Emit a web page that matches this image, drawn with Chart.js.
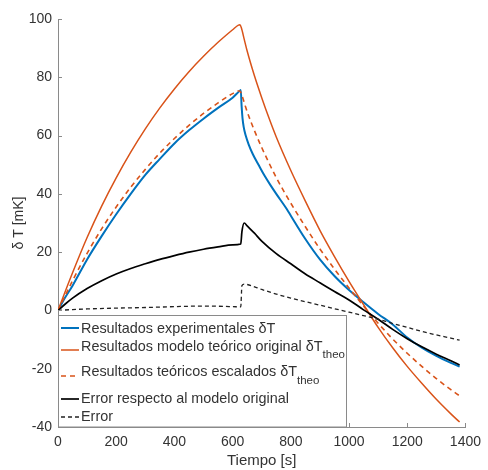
<!DOCTYPE html>
<html>
<head>
<meta charset="utf-8">
<script src="https://cdn.jsdelivr.net/npm/chart.js@4.4.1/dist/chart.umd.min.js"></script>
<style>
  html, body { margin: 0; padding: 0; background: #fff; }
  #wrap { width: 488px; height: 470px; position: relative; }
</style>
</head>
<body>
<div id="wrap"><canvas id="c" width="488" height="470"></canvas></div>
<script>
// ---- Data ----
const xTicks = [0, 200, 400, 600, 800, 1000, 1200, 1400];
const yTicks = [-40, -20, 0, 20, 40, 60, 80, 100];

// Resultados experimentales δT
const tExp = [0, 25, 50, 100, 150, 200, 250, 300, 350, 400, 450, 500, 550, 600, 625, 628, 631, 634, 638, 645, 655, 670, 690, 710, 730, 750, 786, 800, 850, 900, 950, 1000, 1050, 1100, 1150, 1200, 1250, 1300, 1350, 1380];
const vExp = [0, 4.5, 8.5, 17.5, 25.5, 33.0, 40.0, 46.5, 52.0, 57.3, 61.8, 65.8, 69.5, 73.0, 75.4, 75.6, 70.0, 66.0, 63.0, 60.0, 57.0, 53.5, 49.8, 46.2, 43.0, 40.0, 34.8, 32.5, 24.5, 17.5, 11.8, 7.0, 2.8, -1.2, -4.8, -9.3, -12.8, -15.6, -18.0, -19.3];

// Resultados modelo teórico original δT_theo
const tOrig = [0, 50, 100, 150, 200, 250, 300, 350, 400, 450, 500, 550, 600, 620, 625, 630, 640, 650, 675, 700, 725, 750, 800, 850, 900, 950, 1000, 1050, 1100, 1150, 1200, 1250, 1300, 1350, 1380];
const vOrig = [0, 12.9, 25.0, 35.8, 45.5, 54.3, 62.3, 69.5, 76.0, 81.9, 87.2, 92.0, 96.3, 97.9, 98.0, 97.0, 93.0, 89.0, 80.5, 73.0, 66.0, 59.5, 48.0, 37.5, 27.5, 18.5, 10.0, 2.0, -5.8, -12.8, -19.2, -25.0, -30.5, -35.5, -38.3];

// Resultados teóricos escalados δT_theo
const tScal = [0, 50, 100, 150, 200, 250, 300, 350, 400, 450, 500, 550, 600, 620, 625, 630, 640, 650, 675, 700, 725, 750, 800, 850, 900, 950, 1000, 1050, 1100, 1150, 1200, 1250, 1300, 1350, 1380];
const vScal = [0, 10.2, 19.6, 28.0, 35.5, 42.3, 48.4, 54.0, 59.0, 63.5, 67.6, 71.2, 74.4, 75.3, 75.3, 74.4, 71.3, 68.2, 61.7, 55.9, 50.6, 45.6, 36.8, 28.7, 21.1, 14.2, 7.7, 1.5, -4.4, -9.8, -14.7, -19.2, -23.4, -27.2, -29.3];

// Error respecto al modelo original
const tErrO = [0, 25, 50, 100, 150, 200, 250, 300, 350, 400, 450, 500, 550, 600, 628, 632, 640, 650, 675, 700, 750, 800, 850, 900, 950, 1000, 1050, 1100, 1150, 1200, 1250, 1300, 1350, 1380];
const vErrO = [0, 2.2, 4.2, 7.5, 10.2, 12.5, 14.4, 16.0, 17.5, 18.8, 20.0, 21.0, 21.8, 22.5, 22.8, 27.0, 30.0, 29.0, 26.5, 23.8, 19.5, 16.0, 12.5, 9.5, 6.5, 3.6, 0.2, -3.0, -6.5, -9.7, -12.5, -15.0, -17.3, -18.7];

// Error
const tErr = [0, 50, 100, 200, 300, 400, 500, 600, 628, 632, 640, 650, 700, 750, 800, 850, 900, 950, 1000, 1050, 1100, 1150, 1200, 1250, 1300, 1350, 1380];
const vErr = [0, 0.3, 0.5, 0.8, 1.0, 1.3, 1.5, 1.3, 1.2, 8.5, 9.0, 8.9, 7.2, 5.6, 4.2, 3.0, 1.8, 0.6, -0.6, -1.8, -3.0, -4.5, -5.8, -7.2, -8.4, -9.5, -10.2];

const legendLabels = [
  ["Resultados experimentales \u03B4T", ""],
  ["Resultados modelo te\u00F3rico original \u03B4T", "theo"],
  ["Resultados te\u00F3ricos escalados \u03B4T", "theo"],
  ["Error respecto al modelo original", ""],
  ["Error", ""]
];

const BLUE = '#0072BD', ORANGE = '#D95319', BLACK = '#000000';
const FONT = '"Liberation Sans", Arial, Helvetica, sans-serif';
const AXIS = '#8a8a8a';
const TEXT = '#333333';

function pts(ts, vs) { return ts.map((t, i) => ({ x: t, y: vs[i] })); }

const datasets = [
  { data: pts(tExp, vExp), borderColor: BLUE, borderWidth: 2, order: 5 },
  { data: pts(tOrig, vOrig), borderColor: ORANGE, borderWidth: 1.5, order: 4 },
  { data: pts(tScal, vScal), borderColor: ORANGE, borderWidth: 1.6, borderDash: [5, 4], order: 3 },
  { data: pts(tErrO, vErrO), borderColor: BLACK, borderWidth: 1.7, order: 2 },
  { data: pts(tErr, vErr), borderColor: '#222', borderWidth: 1.3, borderDash: [4, 3], order: 1 }
].map(d => Object.assign({ pointRadius: 0, fill: false, cubicInterpolationMode: 'monotone' }, d));

const legendStyles = [
  { color: BLUE, width: 2, dash: [] },
  { color: ORANGE, width: 1.5, dash: [] },
  { color: ORANGE, width: 1.6, dash: [5, 4] },
  { color: BLACK, width: 1.7, dash: [] },
  { color: '#222', width: 1.3, dash: [4, 3] }
];

const decorPlugin = {
  id: 'decor',
  afterDatasetsDraw(chart) {
    const ctx = chart.ctx;
    const xs = chart.scales.x, ys = chart.scales.y;
    const ca = chart.chartArea;
    ctx.save();
    // inward ticks
    ctx.strokeStyle = AXIS;
    ctx.lineWidth = 1;
    ctx.setLineDash([]);
    ctx.beginPath();
    xTicks.forEach(v => {
      const px = Math.round(xs.getPixelForValue(v)) + 0.5;
      ctx.moveTo(px, ca.bottom);
      ctx.lineTo(px, ca.bottom - 4);
    });
    yTicks.forEach(v => {
      const py = Math.round(ys.getPixelForValue(v)) + 0.5;
      ctx.moveTo(ca.left, py);
      ctx.lineTo(ca.left + 4, py);
    });
    ctx.stroke();

    // legend box
    const bx = ca.left + 0.5, by = 315.5, bw = 288, bh = ca.bottom - 315.5;
    ctx.fillStyle = '#ffffff';
    ctx.fillRect(bx, by, bw, bh);
    ctx.strokeStyle = AXIS;
    ctx.strokeRect(bx, by, bw, bh);

    const lineY = [328, 350, 376, 399, 417];
    const textY = [329, 347, 372, 399, 417];
    const subY = [0, 355, 381, 0, 0];
    ctx.textBaseline = 'middle';
    ctx.textAlign = 'left';
    legendLabels.forEach((lab, i) => {
      const st = legendStyles[i];
      ctx.strokeStyle = st.color;
      ctx.lineWidth = st.width;
      ctx.setLineDash(st.dash);
      ctx.beginPath();
      ctx.moveTo(61, lineY[i]);
      ctx.lineTo(79, lineY[i]);
      ctx.stroke();
      ctx.setLineDash([]);
      ctx.fillStyle = TEXT;
      ctx.font = '14.4px ' + FONT;
      ctx.fillText(lab[0], 81, textY[i]);
      if (lab[1]) {
        const w = ctx.measureText(lab[0]).width;
        ctx.font = '11.5px ' + FONT;
        ctx.fillText(lab[1], 81 + w, subY[i]);
      }
    });
    ctx.restore();
  }
};

new Chart(document.getElementById('c'), {
  type: 'line',
  data: { datasets },
  options: {
    responsive: false,
    animation: false,
    events: [],
    layout: { autoPadding: false, padding: { top: 19, right: 17, left: 0, bottom: 0 } },
    plugins: { legend: { display: false }, tooltip: { enabled: false }, title: { display: false } },
    scales: {
      x: {
        type: 'linear', min: 0, max: 1400,
        afterBuildTicks: s => { s.ticks = xTicks.map(v => ({ value: v })); },
        afterFit: s => { s.height = 43; },
        grid: { display: true, drawOnChartArea: false, drawTicks: false },
        border: { display: true, color: AXIS, width: 1 },
        ticks: { color: TEXT, font: { family: FONT, size: 14 }, padding: 7, maxRotation: 0, autoSkip: false, callback: v => String(v) },
        title: { display: true, text: 'Tiempo [s]', color: TEXT, font: { family: FONT, size: 15 }, padding: { top: 1, bottom: 0 } }
      },
      y: {
        type: 'linear', min: -40, max: 100,
        afterBuildTicks: s => { s.ticks = yTicks.map(v => ({ value: v })); },
        afterFit: s => { s.width = 58; },
        grid: { display: true, drawOnChartArea: false, drawTicks: false },
        border: { display: true, color: AXIS, width: 1 },
        ticks: { color: TEXT, font: { family: FONT, size: 14 }, padding: 6, autoSkip: false, callback: v => String(v) },
        title: { display: true, text: '\u03B4 T [mK]', color: TEXT, font: { family: FONT, size: 14 }, padding: { top: 11, bottom: 0 } }
      }
    }
  },
  plugins: [decorPlugin]
});
</script>
</body>
</html>
